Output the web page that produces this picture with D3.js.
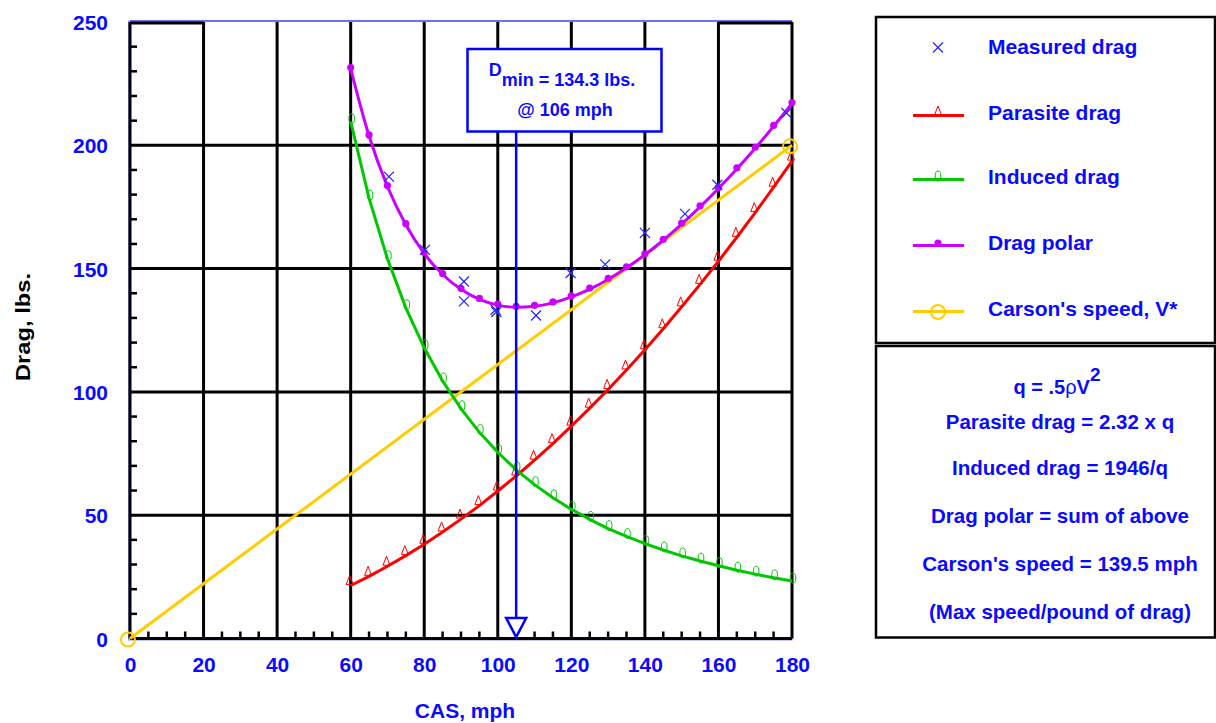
<!DOCTYPE html>
<html>
<head>
<meta charset="utf-8">
<script src="https://cdn.jsdelivr.net/npm/d3@7"></script>
<style>
  html, body { margin: 0; padding: 0; background: #fff; }
  svg { display: block; }
  text { font-family: "Liberation Sans", Arial, sans-serif; font-weight: bold; }
</style>
</head>
<body>
<svg id="chart" width="1216" height="723"></svg>
<script>
// ---------------- data ----------------
const speeds = [60,65,70,75,80,85,90,95,100,105,110,115,120,125,130,135,140,145,150,155,160,165,170,175,180];
const parasiteDrag = [21.5,25.2,29.3,33.6,38.2,43.2,48.4,53.9,59.8,65.9,72.3,79.0,86.1,93.4,101.0,108.9,117.1,125.6,134.5,143.6,153.0,162.7,172.7,183.0,193.6];
const inducedDrag = [209.6,178.6,154.0,134.1,117.9,104.4,93.2,83.6,75.5,68.4,62.4,57.1,52.4,48.3,44.6,41.4,38.5,35.9,33.5,31.4,29.5,27.7,26.1,24.6,23.3];
const dragPolar = [231.1,203.8,183.3,167.8,156.1,147.6,141.6,137.5,135.2,134.3,134.7,136.1,138.5,141.7,145.6,150.3,155.6,161.5,168.0,175.0,182.5,190.4,198.8,207.7,216.9];
const measuredSpeed = [70.4,80.2,90.8,90.8,99.4,99.6,110.4,119.8,129.2,140.0,150.9,159.7,178.5];
const measuredDrag = [187.3,157.6,144.8,136.7,133.3,132.4,131.0,148.2,151.7,164.5,172.2,184.0,213.1];
const carsonSpeed = [0,180];
const carsonDrag = [0,200];
const xTicks = [0,20,40,60,80,100,120,140,160,180];
const yTicks = [0,50,100,150,200,250];
const minDragSpeed = 105;   // where the arrow is drawn in the picture
const legendLabels = ["Measured drag","Parasite drag","Induced drag","Drag polar","Carson's speed, V*"];
const formulaLines = ["Parasite drag = 2.32 x q","Induced drag = 1946/q","Drag polar = sum of above","Carson's speed = 139.5 mph","(Max speed/pound of drag)"];
const annotationLine1 = "min = 134.3 lbs.";
const annotationLine2 = "@ 106 mph";

// ---------------- setup ----------------
const svg = d3.select("#chart");
const x = d3.scaleLinear().domain([0,180]).range([130,792]);
const y = d3.scaleLinear().domain([0,250]).range([638.5,22]);
const BLUE = "#0a0aff", RED = "#ff0000", GREEN = "#00c800", PURPLE = "#cc00ff", YELLOW = "#ffcc00";

// light-blue plot frame
svg.append("rect").attr("x", x(0)-1.5).attr("y", y(250)-1).attr("width", x(180)-x(0)+1.5).attr("height", y(0)-y(250)+2.5)
  .attr("fill","none").attr("stroke","#8c8cff").attr("stroke-width",1);
svg.append("line").attr("x1", x(0)).attr("x2", x(180)).attr("y1", y(250)-1).attr("y2", y(250)-1)
  .attr("stroke","#5050ff").attr("stroke-width",1.5);

// grid
const grid = svg.append("g").attr("stroke","#000").attr("stroke-width",3);
xTicks.forEach(v => grid.append("line").attr("x1",x(v)).attr("x2",x(v)).attr("y1",y(250)).attr("y2",y(0)));
yTicks.filter(v => v < 250).forEach(v => grid.append("line").attr("x1",x(0)).attr("x2",x(180)).attr("y1",y(v)).attr("y2",y(v)));
[[0,20],[160,180]].forEach(s => grid.append("line").attr("x1",x(s[0])).attr("x2",x(s[1])).attr("y1",y(250)+1).attr("y2",y(250)+1));

// minor ticks
const minor = svg.append("g").attr("stroke","#000").attr("stroke-width",2.5);
d3.range(10,250,10).filter(v => v % 50 !== 0).forEach(v =>
  minor.append("line").attr("x1",x(0)).attr("x2",x(0)+7).attr("y1",y(v)).attr("y2",y(v)));
d3.range(5,180,5).filter(v => v % 20 !== 0).forEach(v =>
  minor.append("line").attr("x1",x(v)).attr("x2",x(v)).attr("y1",y(0)).attr("y2",y(0)-7));

// axis tick labels via d3 axes
const xAxis = svg.append("g").attr("transform",`translate(0,${y(0)})`)
  .call(d3.axisBottom(x).tickValues(xTicks).tickSize(0).tickPadding(19).tickFormat(d3.format("d")));
const yAxis = svg.append("g").attr("transform",`translate(${x(0)},0)`)
  .call(d3.axisLeft(y).tickValues(yTicks).tickSize(0).tickPadding(22).tickFormat(d3.format("d")));
[xAxis,yAxis].forEach(a => {
  a.select(".domain").remove();
  a.selectAll("text").attr("fill",BLUE).style("font-size","21px").style("font-family","'Liberation Sans', Arial, sans-serif").style("font-weight","bold");
});
yAxis.selectAll("text").attr("dy","0.36em");
xAxis.selectAll("text").attr("dy","0.71em");

// axis titles
svg.append("text").attr("x",465).attr("y",718).attr("text-anchor","middle").attr("fill",BLUE)
  .style("font-size","21px").text("CAS, mph");
svg.append("text").attr("transform","translate(30,327) rotate(-90)").attr("text-anchor","middle").attr("fill","#000")
  .style("font-size","21px").attr("textLength",108).attr("lengthAdjust","spacingAndGlyphs").text("Drag, lbs.");

// lines
const line = d3.line().x(d => x(d[0])).y(d => y(d[1]));
const pts = arr => speeds.map((s,i) => [s, arr[i]]);
svg.append("path").datum(carsonSpeed.map((s,i)=>[s,carsonDrag[i]])).attr("d",line).attr("fill","none").attr("stroke",YELLOW).attr("stroke-width",3);
svg.append("path").datum(pts(parasiteDrag)).attr("d",line).attr("fill","none").attr("stroke",RED).attr("stroke-width",3);
svg.append("path").datum(pts(inducedDrag)).attr("d",line).attr("fill","none").attr("stroke",GREEN).attr("stroke-width",3);
svg.append("path").datum(pts(dragPolar)).attr("d",d3.line().curve(d3.curveMonotoneX).x(d=>x(d[0])).y(d=>y(d[1]))).attr("fill","none").attr("stroke",PURPLE).attr("stroke-width",3);

// marker helpers
const triPath = "M0,-9L3.5,0L-3.5,0Z";
function drawTri(g, cx, cy) { g.append("path").attr("d",triPath).attr("transform",`translate(${cx},${cy})`).attr("fill","none").attr("stroke",RED).attr("stroke-width",1); }
function drawZero(g, cx, cy) { g.append("ellipse").attr("cx",cx).attr("cy",cy).attr("rx",2.8).attr("ry",5).attr("fill","none").attr("stroke",GREEN).attr("stroke-width",1); }
function drawDot(g, cx, cy) { g.append("circle").attr("cx",cx).attr("cy",cy).attr("r",3.6).attr("fill",PURPLE); }
function drawX(g, cx, cy) { g.append("path").attr("d","M-5,-5L5,5M-5,5L5,-5").attr("transform",`translate(${cx},${cy})`).attr("stroke","#2a2aff").attr("stroke-width",1.3).attr("fill","none"); }
function drawCirc(g, cx, cy) { g.append("circle").attr("cx",cx).attr("cy",cy).attr("r",7).attr("fill","none").attr("stroke",YELLOW).attr("stroke-width",2); }

const mk = svg.append("g");
speeds.forEach((s,i) => {
  drawTri(mk, x(s)-1, y(parasiteDrag[i])-1);
  drawZero(mk, x(s)+1, y(inducedDrag[i])-3);
  drawDot(mk, x(s), y(dragPolar[i])-1);
});
measuredSpeed.forEach((s,i) => drawX(mk, x(s), y(measuredDrag[i])));
carsonSpeed.forEach((s,i) => drawCirc(mk, x(s)-2, y(carsonDrag[i])+1));

// annotation box + arrow
const ax = x(minDragSpeed);
svg.append("line").attr("x1",ax).attr("x2",ax).attr("y1",132).attr("y2",618).attr("stroke","#0000ff").attr("stroke-width",2.5);
svg.append("path").attr("d",`M${ax-10},618L${ax+10},618L${ax},637Z`).attr("fill","#fff").attr("stroke","#0000ff").attr("stroke-width",2.5);
svg.append("rect").attr("x",467.5).attr("y",49).attr("width",194).attr("height",82.5).attr("fill","#fff").attr("stroke","#0000ff").attr("stroke-width",2.5);
const t1 = svg.append("text").attr("x",562).attr("y",86).attr("text-anchor","middle").attr("fill",BLUE).style("font-size","18px");
t1.append("tspan").attr("dy",-10).text("D");
t1.append("tspan").attr("dy",10).text(annotationLine1);
svg.append("text").attr("x",565).attr("y",116).attr("text-anchor","middle").attr("fill",BLUE).style("font-size","18px").text(annotationLine2);

// legend box
svg.append("rect").attr("x",876).attr("y",17).attr("width",339).attr("height",326).attr("fill","#fff").attr("stroke","#000").attr("stroke-width",2.5);
svg.append("rect").attr("x",876).attr("y",346).attr("width",339).attr("height",291.5).attr("fill","#fff").attr("stroke","#000").attr("stroke-width",2.5);
const legendY = [46,112,176,242,308];
const legendColors = [null, RED, GREEN, PURPLE, YELLOW];
const lg = svg.append("g");
legendLabels.forEach((lab,i) => {
  const cy = legendY[i];
  if (legendColors[i]) lg.append("line").attr("x1",913).attr("x2",964).attr("y1",cy+3.5).attr("y2",cy+3.5).attr("stroke",legendColors[i]).attr("stroke-width",3);
  if (i===0) drawX(lg, 938, cy+1.5);
  if (i===1) drawTri(lg, 938, cy+3);
  if (i===2) drawZero(lg, 938, cy);
  if (i===3) drawDot(lg, 938, cy+1);
  if (i===4) drawCirc(lg, 938, cy+4);
  lg.append("text").attr("x",988).attr("y",cy).attr("dy","0.36em").attr("fill",BLUE).style("font-size","21px").text(lab);
});

// formula box
const fx = 1060;
const q = svg.append("text").attr("x",fx-3).attr("y",394).attr("text-anchor","middle").attr("fill",BLUE).style("font-size","20px");
q.append("tspan").text("q = .5");
q.append("tspan").style("font-weight","normal").text("ρ");
q.append("tspan").text("V");
q.append("tspan").attr("dy",-13).style("font-size","19px").text("2");
const formulaY = [422,468,516,564,612];
formulaLines.forEach((s,i) => svg.append("text").attr("x",fx).attr("y",formulaY[i]).attr("dy","0.36em").attr("text-anchor","middle").attr("fill",BLUE).style("font-size","20.5px").text(s));
</script>
</body>
</html>
